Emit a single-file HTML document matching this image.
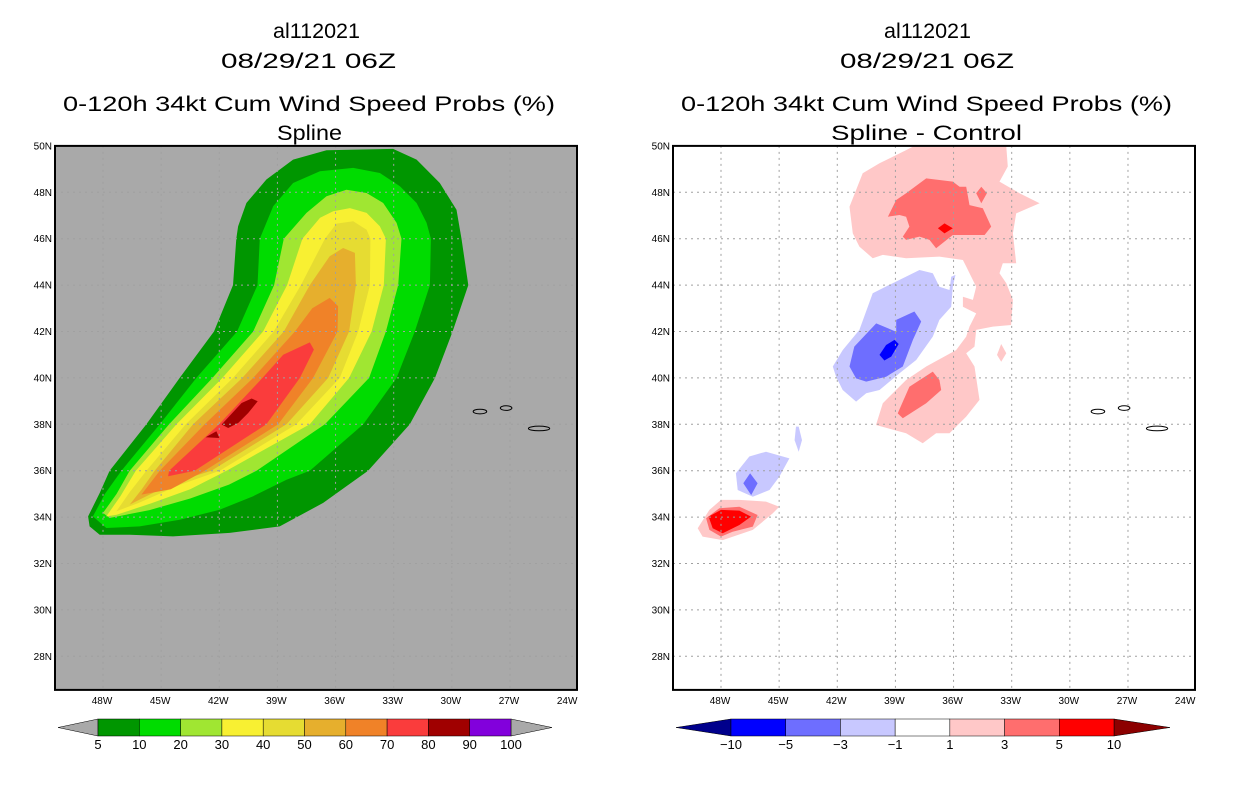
<!DOCTYPE html>
<html><head><meta charset="utf-8"><style>
html,body{margin:0;padding:0;background:#fff;}
svg{display:block;font-family:"Liberation Sans",sans-serif;}
</style></head><body>
<svg id="chart" width="1236" height="800" viewBox="0 0 1236 800" xmlns="http://www.w3.org/2000/svg">
<g font-size="21" fill="#000">
<text x="273" y="38" textLength="87" lengthAdjust="spacingAndGlyphs">al112021</text>
<text x="221" y="68" textLength="175" lengthAdjust="spacingAndGlyphs">08/29/21 06Z</text>
<text x="63" y="111" textLength="492" lengthAdjust="spacingAndGlyphs">0-120h 34kt Cum Wind Speed Probs (%)</text>
<text x="277" y="140" textLength="65" lengthAdjust="spacingAndGlyphs">Spline</text>
</g>
<g font-size="21" fill="#000">
<text x="884" y="38" textLength="87" lengthAdjust="spacingAndGlyphs">al112021</text>
<text x="840" y="68" textLength="174" lengthAdjust="spacingAndGlyphs">08/29/21 06Z</text>
<text x="681" y="111" textLength="491" lengthAdjust="spacingAndGlyphs">0-120h 34kt Cum Wind Speed Probs (%)</text>
<text x="831" y="140" textLength="191" lengthAdjust="spacingAndGlyphs">Spline - Control</text>
</g>
<g id="left"></g>
<g id="right"></g>
<g id="legL"></g>
<g id="legR"></g>
</svg>
<script>
// ---- data ----
const lonTicks=[-48,-45,-42,-39,-36,-33,-30,-27,-24];
const latTicks=[28,30,32,34,36,38,40,42,44,46,48,50];
const leftLevels=[5,10,20,30,40,50,60,70,80,90,100];
const leftColors=["#009600","#00dc00","#a0e632","#f8f032","#e6dc32","#e6af2d","#f08228","#fa3c3c","#a00000","#8200dc"];
const rightLevels=[-10,-5,-3,-1,1,3,5,10];
const rightColors=["#00008c","#0000ff","#6e6eff","#c8c8ff","#ffffff","#ffc8c8","#ff6e6e","#ff0000","#8c0000"];
const p5=[-48.77,34.03,-48.17,35.04,-47.66,36,-45.76,38,-44.04,40,-42.27,42,-41.29,44,-41.12,46,-41.03,46.53,-40.6,47.54,-39.57,48.55,-38.19,49.41,-36.47,49.81,-33.03,49.87,-31.82,49.41,-30.62,48.4,-29.76,47.25,-29.5,46,-29.15,44,-29.96,42,-30.87,40,-32.17,38,-34.32,36,-35.44,35.33,-36.64,34.61,-38.88,33.6,-41.46,33.32,-44.39,33.17,-46.62,33.24,-48.17,33.24,-48.69,33.6];
const p10=[-48.52,34.03,-47.9,35.0,-47.05,36,-45.07,38,-43.18,40,-41.08,42,-40.03,44,-39.91,46,-39.22,47.4,-38.19,48.4,-36.81,48.91,-35.09,49.05,-33.71,48.83,-32.68,48.26,-31.82,47.54,-31.3,46.68,-31.08,46,-31.13,44,-31.91,42,-32.85,40,-34.57,38,-37.33,36,-38.53,35.61,-40.25,34.9,-41.98,34.32,-44.04,33.89,-46.11,33.6,-47.83,33.53];
const p20=[-48.0,34.18,-47.3,35.0,-46.62,36,-44.59,38,-42.35,40,-40.25,42,-39.17,44,-38.67,46,-37.5,47.11,-36.47,47.83,-35.44,48.11,-34.4,47.97,-33.54,47.54,-32.85,46.68,-32.6,46,-32.77,44,-33.4,42,-34.27,40,-36.55,38,-40.08,36,-41.5,35.4,-43.5,34.8,-45.6,34.3,-47.66,33.96];
const p30=[-47.83,34.03,-47.1,34.9,-46.31,36,-44.21,38,-41.84,40,-39.74,42,-38.5,44,-37.71,46,-36.8,46.9,-36.12,47.18,-35.26,47.32,-34.4,47.11,-33.71,46.53,-33.4,46,-33.51,44,-34.14,42,-35.3,40,-37.33,38,-41.63,36,-43.5,35.2,-45.5,34.6,-47.3,34.1];
const p40=[-47.31,34.25,-46.6,35.1,-45.76,36,-43.73,38,-41.29,40,-39.19,42,-37.79,44,-36.55,46,-35.95,46.65,-35.09,46.75,-34.4,46.39,-34.2,46,-34.23,44,-34.83,42,-35.78,40,-38.02,38,-41.98,36,-44.0,35.4,-46.2,34.6];
const p50=[-46.62,34.54,-46.0,35.2,-45.33,36,-43.35,38,-40.81,40,-38.67,42,-37.33,44,-36.3,45.24,-35.61,45.6,-35.0,45.39,-34.95,44,-35.3,42,-36.38,40,-38.53,38,-42.41,36,-44.3,35.5,-46.0,34.8];
const p60=[-46.02,34.97,-45.07,36,-42.75,38,-40.25,40,-38.1,42,-37.2,43.0,-36.3,43.45,-35.87,43.09,-35.9,42,-37.16,40,-38.96,38,-42.75,36,-44.5,35.2];
const p70=[-44.64,35.76,-44.59,36,-42.01,38,-39.77,40,-38.7,41,-37.33,41.53,-37.12,41.22,-37.84,40,-39.57,38,-43.27,36];
const p80a=[-41.88,37.99,-40.85,38.92,-40.33,39.11,-40.02,38.99,-40.5,38.49,-41.02,38.06,-41.54,37.84];
const p80b=[-42.7,37.44,-42.15,37.7,-42.0,37.41];
const islands=[[-28.55,38.55,0.35,0.1],[-27.2,38.7,0.3,0.1],[-25.5,37.82,0.55,0.1]];
// difference field
const dPink=[-41.37,47.38,-40.69,48.82,-39.82,49.25,-38.45,49.82,-38.1,49.97,-35.0,49.97,-33.28,49.97,-33.2,49.11,-33.63,48.46,-32.6,47.96,-31.56,47.53,-32.77,47.09,-32.94,46.23,-32.77,44.94,-33.46,44.94,-33.63,44.51,-33.28,44.08,-32.94,43.36,-33.03,42.28,-33.97,42.21,-34.83,42.07,-34.92,41.35,-35.35,41.06,-34.92,40.49,-34.66,39.05,-35.35,38.33,-36.21,37.61,-36.9,37.61,-37.59,37.18,-38.45,37.61,-40.0,37.97,-39.65,38.91,-38.45,39.91,-37.41,40.49,-35.87,41.2,-35.35,41.78,-35.18,42.21,-34.83,42.78,-35.52,43.07,-35.52,43.5,-35.0,43.36,-34.83,43.93,-35.35,44.8,-35.52,45.08,-36.73,45.23,-38.45,45.16,-39.65,45.3,-40.17,45.16,-40.86,45.66,-41.2,46.23];
const dPinkDot=[-33.54,41.46,-33.28,41.06,-33.54,40.7,-33.76,40.99];
const dRedTop=[-39.39,46.95,-38.96,47.67,-38.45,47.96,-37.41,48.6,-36.04,48.46,-35.69,48.24,-35.35,48.24,-35.18,47.45,-34.49,47.31,-34.06,46.52,-34.4,46.16,-36.04,46.16,-36.9,45.59,-37.24,45.95,-37.76,46.09,-38.45,45.95,-38.62,46.09,-38.28,46.52,-38.45,46.95,-38.79,47.02];
const dRedDot=[-34.83,47.96,-34.57,48.24,-34.28,47.96,-34.57,47.53];
const dBrightTop=[-36.81,46.45,-36.47,46.66,-36.04,46.45,-36.47,46.23];
const dRedMid=[-38.88,38.47,-38.28,39.62,-37.07,40.27,-36.73,39.91,-36.64,39.48,-37.41,38.91,-38.62,38.26];
const dBlue1=[-42.23,40.49,-41.72,41.2,-40.86,42.07,-40.17,43.65,-39.14,44.08,-37.76,44.65,-37.07,44.51,-36.73,43.93,-36.21,43.79,-36.12,44.36,-35.9,44.44,-36.04,43.93,-36.12,43.07,-36.73,42.5,-37.07,41.78,-37.93,40.77,-38.79,40.2,-39.82,39.48,-40.51,39.34,-41.03,38.98,-41.72,39.48,-42.06,40.05];
const dBlue3=[-41.37,40.49,-41.12,41.35,-39.99,42.35,-38.96,41.99,-38.96,42.5,-38.02,42.86,-37.67,42.43,-38.1,41.64,-38.62,40.49,-39.48,40.05,-40.51,39.84,-41.03,39.98];
const dBlue5=[-39.82,40.99,-39.48,41.42,-39.05,41.64,-38.83,41.46,-39.22,40.92,-39.57,40.75];
const dBlueLow=[-47.23,35.89,-46.54,36.61,-45.68,36.82,-44.47,36.53,-44.99,35.74,-45.5,35.17,-46.36,34.88,-47.14,35.17];
const dBlueLow3=[-46.85,35.46,-46.5,35.89,-46.11,35.46,-46.44,34.95];
const dBlueSliver=[-44.13,37.9,-43.99,37.9,-43.82,37.32,-43.99,36.82,-44.2,37.32];
const dPinkLow=[-49.2,33.52,-48.6,34.31,-48.0,34.74,-47.05,34.74,-45.68,34.67,-44.99,34.45,-45.33,34.16,-46.36,33.45,-47.91,33.01,-48.95,33.16];
const dRedLow=[-48.77,33.95,-48.09,34.38,-47.05,34.45,-46.11,34.09,-46.36,33.59,-47.4,33.37,-48.0,33.16,-48.6,33.45];
const dBrightLow=[-48.64,34.02,-48.0,34.31,-47.05,34.28,-46.45,34.02,-47.05,33.66,-47.91,33.3,-48.43,33.52];

// ---- drawing ----
const NS="http://www.w3.org/2000/svg";
const PX=19.38, PY=23.2, TOP=145.9, W=522, H=544;
function mk(tag,attrs,parent){const e=document.createElementNS(NS,tag);for(const k in attrs)e.setAttribute(k,attrs[k]);parent.appendChild(e);return e;}
function panel(g,x0,bg,polys){
  const xs=lon=>x0+48+(lon+48)*PX;
  const ys=lat=>TOP+(50-lat)*PY;
  const clipId="clip"+x0;
  const defs=mk("defs",{},g);
  const cp=mk("clipPath",{id:clipId},defs);
  mk("rect",{x:x0,y:TOP,width:W,height:H},cp);
  const bgR=mk("rect",{x:x0,y:TOP,width:W,height:H,fill:bg},g);
  
  
  const cg=mk("g",{"clip-path":"url(#"+clipId+")"},g);
  polys.forEach(([arr,col,name])=>{
    let pts=[];for(let i=0;i<arr.length;i+=2)pts.push(xs(arr[i]).toFixed(1)+","+ys(arr[i+1]).toFixed(1));
    const p=mk("polygon",{points:pts.join(" "),fill:col,"stroke-linejoin":"round"},cg);
    
    
  });
  for(let lon=-48;lon<=-27;lon+=3){const l=mk("line",{x1:xs(lon),x2:xs(lon),y1:TOP,y2:TOP+H,stroke:"#a0a0a0","stroke-dasharray":"2,4","stroke-width":1},cg);
    }
  for(let lat=28;lat<=48;lat+=2){const l=mk("line",{x1:x0,x2:x0+W,y1:ys(lat),y2:ys(lat),stroke:"#a0a0a0","stroke-dasharray":"2,4","stroke-width":1},cg);
    }
  islands.forEach(([lo,la,rx,ry])=>{const e=mk("ellipse",{cx:xs(lo),cy:ys(la),rx:rx*PX,ry:Math.max(ry*PY,2),fill:"none",stroke:"#000","stroke-width":1},cg);
    });
  const fr=mk("rect",{x:x0,y:TOP,width:W,height:H,fill:"none",stroke:"#000","stroke-width":2},g);
  
  lonTicks.forEach(lon=>{const t=mk("text",{x:xs(lon)-1,y:704,"font-size":10,"text-anchor":"middle"},g);t.textContent=(-lon)+"W";
    });
  latTicks.forEach(lat=>{const t=mk("text",{x:x0-3,y:ys(lat)+3.5,"font-size":10,"text-anchor":"end"},g);t.textContent=lat+"N";
    });
}
panel(document.getElementById("left"),55,"#a9a9a9",[
 [p5,leftColors[0],"contour-5"],[p10,leftColors[1],"contour-10"],[p20,leftColors[2],"contour-20"],[p30,leftColors[3],"contour-30"],
 [p40,leftColors[4],"contour-40"],[p50,leftColors[5],"contour-50"],[p60,leftColors[6],"contour-60"],[p70,leftColors[7],"contour-70"],
 [p80a,leftColors[8],"contour-80"],[p80b,leftColors[8],"contour-80-small"]]);
panel(document.getElementById("right"),673,"#ffffff",[
 [dPink,rightColors[5],"diff-plus-1"],[dPinkDot,rightColors[5],"diff-plus-1-dot"],[dRedTop,rightColors[6],"diff-plus-3-north"],
 [dRedDot,rightColors[6],"diff-plus-3-dot"],[dBrightTop,rightColors[7],"diff-plus-5-north"],[dRedMid,rightColors[6],"diff-plus-3-mid"],
 [dBlue1,rightColors[3],"diff-minus-1"],[dBlue3,rightColors[2],"diff-minus-3"],[dBlue5,rightColors[1],"diff-minus-5"],
 [dBlueLow,rightColors[3],"diff-minus-1-south"],[dBlueLow3,rightColors[2],"diff-minus-3-south"],[dBlueSliver,rightColors[3],"diff-minus-1-sliver"],
 [dPinkLow,rightColors[5],"diff-plus-1-south"],[dRedLow,rightColors[6],"diff-plus-3-south"],[dBrightLow,rightColors[7],"diff-plus-5-south"]]);

function colorbar(g,x1,x2,triL,triR,labels,colors,endL,endR){
  const y=719,h=17,n=colors.length,w=(x2-x1)/n;
  let t=mk("polygon",{points:`${triL},${y+h/2} ${x1},${y} ${x1},${y+h}`,fill:endL,stroke:"#000","stroke-width":0.5},g);
  
  t=mk("polygon",{points:`${triR},${y+h/2} ${x2},${y} ${x2},${y+h}`,fill:endR,stroke:"#000","stroke-width":0.5},g);
  
  colors.forEach((c,i)=>{const r=mk("rect",{x:x1+i*w,y:y,width:w,height:h,fill:c,stroke:"#000","stroke-width":0.5},g);
    });
  labels.forEach((l,i)=>{const tx=mk("text",{x:x1+i*w,y:y+h+13,"font-size":13,"text-anchor":"middle"},g);tx.textContent=(l<0?"\u2212"+(-l):l);
    });
}
colorbar(document.getElementById("legL"),98,511,58,552,leftLevels,leftColors,"#a9a9a9","#a9a9a9");
colorbar(document.getElementById("legR"),731,1114,676,1170,rightLevels,rightColors.slice(1,8),rightColors[0],rightColors[8]);
</script>
</body></html>
